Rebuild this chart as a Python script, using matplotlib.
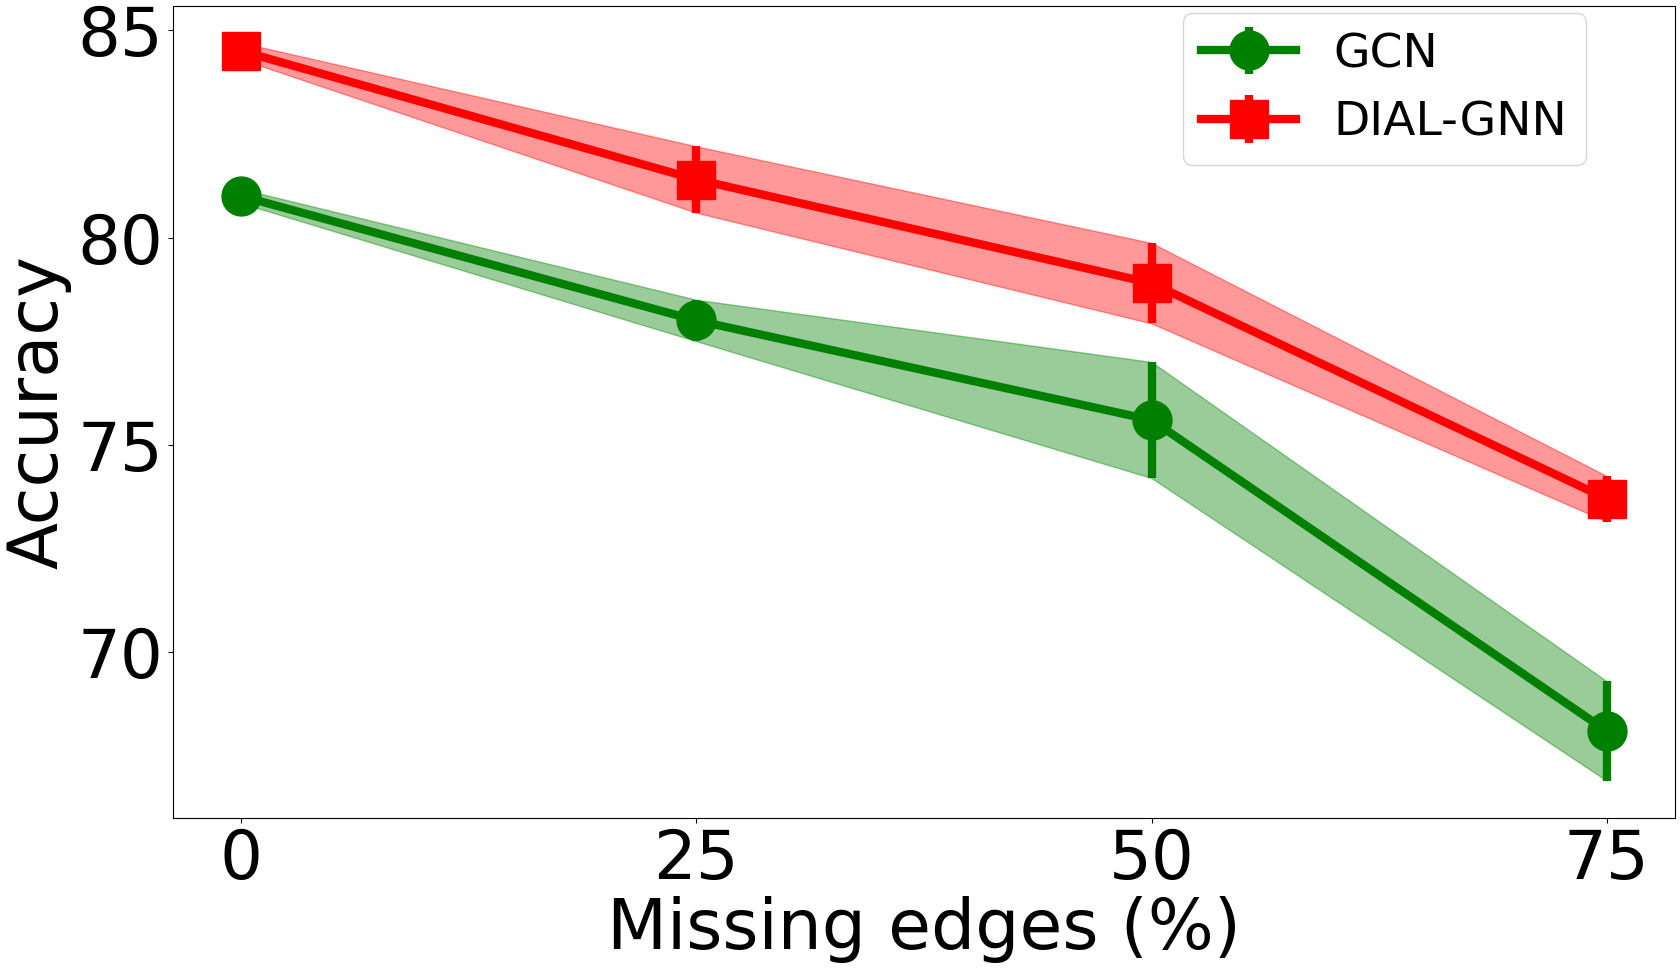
import numpy as np
import matplotlib.pyplot as plt

# data
missing = [0, 25, 50, 75]
gcn_mean = [81.0, 78.0, 75.6, 68.1]
gcn_std = [0.17, 0.5, 1.4, 1.2]
dial_mean = [84.5, 81.4, 78.9, 73.7]
dial_std = [0.2, 0.8, 0.97, 0.55]

fig, ax = plt.subplots(figsize=(16.8, 9.71), dpi=100)
fig.subplots_adjust(left=0.103, right=0.997, top=0.994, bottom=0.158)

x = np.array(missing)

g_m = np.array(gcn_mean)
g_s = np.array(gcn_std)
ax.errorbar(x, g_m, yerr=g_s, color='green', marker='o', markersize=28,
            linewidth=6, elinewidth=6, label='GCN')
ax.fill_between(x, g_m - g_s, g_m + g_s, color='green', alpha=0.4)

d_m = np.array(dial_mean)
d_s = np.array(dial_std)
ax.errorbar(x, d_m, yerr=d_s, color='red', marker='s', markersize=28,
            linewidth=6, elinewidth=6, label='DIAL-GNN')
ax.fill_between(x, d_m - d_s, d_m + d_s, color='red', alpha=0.4)

ax.set_xticks(missing)
ax.set_yticks([70, 75, 80, 85])
ax.tick_params(labelsize=48.5)
ax.set_xlabel('Missing edges (%)', fontsize=50, labelpad=2)
ax.set_ylabel('Accuracy', fontsize=49.5)
ax.legend(loc='upper right', bbox_to_anchor=(0.941, 0.991), borderaxespad=0,
          fontsize=34)

plt.savefig('out.png', dpi=100)
